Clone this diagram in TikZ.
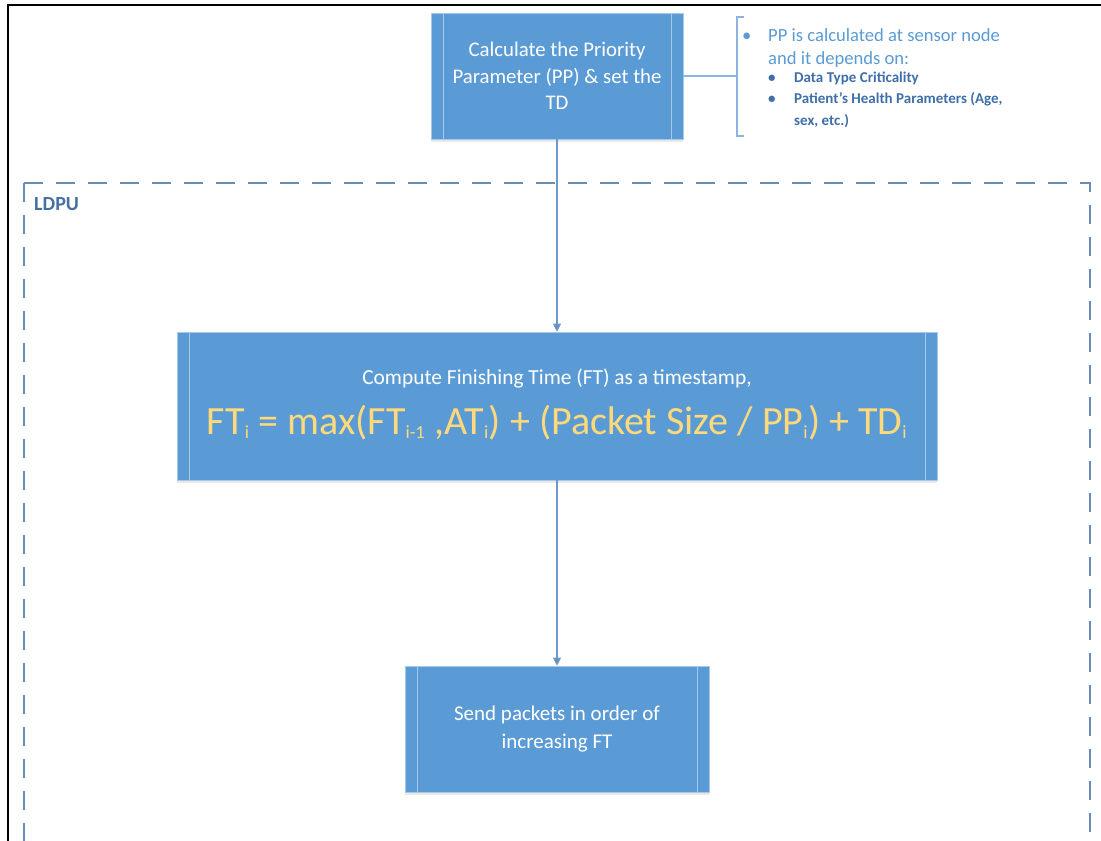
\documentclass[tikz,border=0pt]{standalone}
\usepackage{fontspec}
\setmainfont{Carlito}
\usetikzlibrary{arrows.meta,shadows,calc}
\definecolor{boxblue}{HTML}{5B9BD5}
\definecolor{stripeblue}{HTML}{A8C8EA}
\definecolor{linkblue}{HTML}{6E98CC}
\definecolor{dashblue}{HTML}{6A8DB8}
\definecolor{labelblue}{HTML}{44719E}
\definecolor{notelight}{HTML}{5B9BD5}
\definecolor{notedark}{HTML}{3E6FA8}
\definecolor{bracketblue}{HTML}{8DB3E2}
\definecolor{formulayellow}{HTML}{FFD97A}
\tikzset{
  x=1pt, y=-1pt,
  procbox/.style={draw=stripeblue, line width=0.6pt, fill=boxblue, text=white,
    align=center, inner sep=0pt,
    drop shadow={opacity=0.18, shadow xshift=0pt, shadow yshift=-2.5pt},
    path picture={
      \draw[stripeblue, line width=0.8pt]
        ([xshift=12pt]path picture bounding box.north west) --
        ([xshift=12pt]path picture bounding box.south west)
        ([xshift=-12pt]path picture bounding box.north east) --
        ([xshift=-12pt]path picture bounding box.south east);
    }},
  flowlink/.style={draw=linkblue, line width=1.1pt,
    -{Triangle[length=8pt,width=8pt,fill=dashblue]}},
  notetext/.style={anchor=base west, inner sep=0pt, text=notelight, font=\fontsize{18.6}{22}\selectfont},
  subtext/.style={anchor=base west, inner sep=0pt, text=notedark, font=\bfseries\fontsize{15}{18}\selectfont},
}
\newcommand{\sbi}[1]{\textsubscript{\fontsize{18.5}{18.5}\selectfont #1}}
\begin{document}
\begin{tikzpicture}
  \useasboundingbox (0,0) rectangle (1101,841);
  \fill[white] (0,0) rectangle (1101,841);

  % page frame
  \draw[black, line width=2.4pt] (8,841) -- (8,5) -- (1101,5);

  % LDPU region
  \begin{scope}
    \clip (0,0) rectangle (1101,841);
    \draw[dashblue, line width=2.4pt, dash pattern=on 19pt off 13pt]
      (24,183) -- (1090,183) -- (1090,860) (24,183) -- (24,860);
  \end{scope}
  \node[anchor=base west, inner sep=0pt, text=labelblue,
        font=\bfseries\fontsize{20}{24}\selectfont] (ldpu) at (34,210) {LDPU};

  % process boxes
  \node[procbox, minimum width=252pt, minimum height=126pt,
        font=\fontsize{20.8}{26.5}\selectfont] (calc) at (557,76)
    {Calculate the Priority\\Parameter (PP) \& set the\\TD};

  \node[procbox, minimum width=760pt, minimum height=148pt] (ft) at (557,406)
    {{\fontsize{21.4}{24}\selectfont Compute Finishing Time (FT) as a timestamp,}\\[16pt]
     {\color{formulayellow}\fontsize{40}{40}\selectfont
      FT\sbi{i} = max(FT\sbi{i-1} ,AT\sbi{i}) + (Packet Size / PP\sbi{i}) + TD\sbi{i}}\\[-4pt]};

  \node[procbox, minimum width=304pt, minimum height=126pt,
        font=\fontsize{21}{27.5}\selectfont] (send) at (557,729)
    {Send packets in order of\\increasing FT};

  % flow
  \draw[flowlink] (calc.south) -- (ft.north);
  \draw[flowlink] (ft.south) -- (send.north);

  % annotation bracket
  \coordinate (brk) at (737,76);
  \draw[bracketblue, line width=1.1pt] (calc.east) -- (brk);
  \draw[bracketblue, line width=1.1pt] (744,17) -- (737,17) -- (737,136) -- (744,136);

  \node[notetext] (b1) at (742,41) {\textbullet};
  \node[notetext] (n1) at (768,41) {PP is calculated at sensor node};
  \node[notetext] (n2) at (768,64) {and it depends on:};
  \node[subtext] (b2) at (768,82) {\textbullet};
  \node[subtext] (s1) at (794,82) {Data Type Criticality};
  \node[subtext] (b3) at (768,103) {\textbullet};
  \node[subtext] (s2) at (794,103) {Patient's Health Parameters (Age,};
  \node[subtext] (s3) at (794,125) {sex, etc.)};
\end{tikzpicture}
\end{document}
